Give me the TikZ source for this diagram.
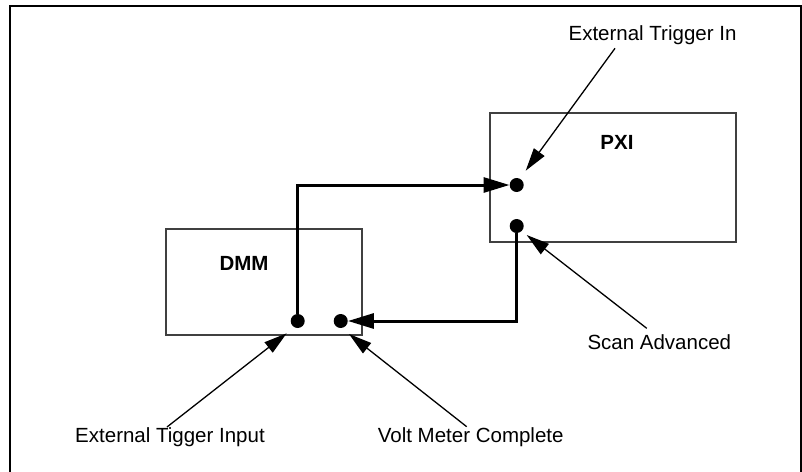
\documentclass[tikz,border=0pt]{standalone}
\usepackage{fontspec}
\setmainfont{Liberation Sans}
\usetikzlibrary{arrows.meta}
\begin{document}
\begin{tikzpicture}[x=1pt,y=-1pt,
  frame/.style={line width=2pt},
  box/.style={draw=black!75, line width=1.3pt, inner sep=0pt},
  dot/.style={circle, fill=black, inner sep=0pt, minimum size=14pt},
  wire/.style={line width=3pt, -{Triangle[length=26pt,width=15pt]}},
  note/.style={line width=1.3pt, -{Triangle[length=23pt,width=13pt]}},
  lbl/.style={font=\fontsize{20.5}{24}\selectfont, inner sep=0pt},
  title/.style={font=\fontsize{20.5}{24}\selectfont\bfseries, inner sep=0pt}]
\useasboundingbox (0,0) rectangle (802,471);
\draw[frame] (10,472) -- (10,6) -- (801,6) -- (801,472);

% boxes
\node[box, minimum width=196pt, minimum height=106pt] (dmm) at (264,282) {};
\node[box, minimum width=246pt, minimum height=129pt] (pxi) at (613,177.5) {};
\node[title] (dmmt) at (244,263) {DMM};
\node[title] (pxit) at (617,142) {PXI};

% terminals
\node[dot] (dmmA) at (297.7,321) {};
\node[dot] (dmmB) at (340.7,321) {};
\node[dot] (pxiA) at (516.7,185) {};
\node[dot] (pxiB) at (516.7,226) {};

% wires
\draw[wire] (dmmA) |- (pxiA);
\draw[wire] (pxiB) |- (dmmB);

% labels
\node[lbl] (lin) at (652.5,35) {External Trigger In};
\node[lbl] (lscan) at (659.3,342) {Scan Advanced};
\node[lbl] (linput) at (170,437) {External Tigger Input};
\node[lbl] (lvolt) at (470.7,437) {Volt Meter Complete};

% annotation ends
\coordinate (s1) at (615,48.3);
\coordinate (t1) at (525.7,170.7);
\coordinate (s2) at (646.7,328.3);
\coordinate (t2) at (526.7,235);
\coordinate (s3) at (167,427);
\coordinate (t3) at (286.7,333.3);
\coordinate (s4) at (466.7,426.7);
\coordinate (t4) at (349,334);

\draw[note] (s1) -- (t1);
\draw[note] (s2) -- (t2);
\draw[note] (s3) -- (t3);
\draw[note] (s4) -- (t4);
\end{tikzpicture}
\end{document}
